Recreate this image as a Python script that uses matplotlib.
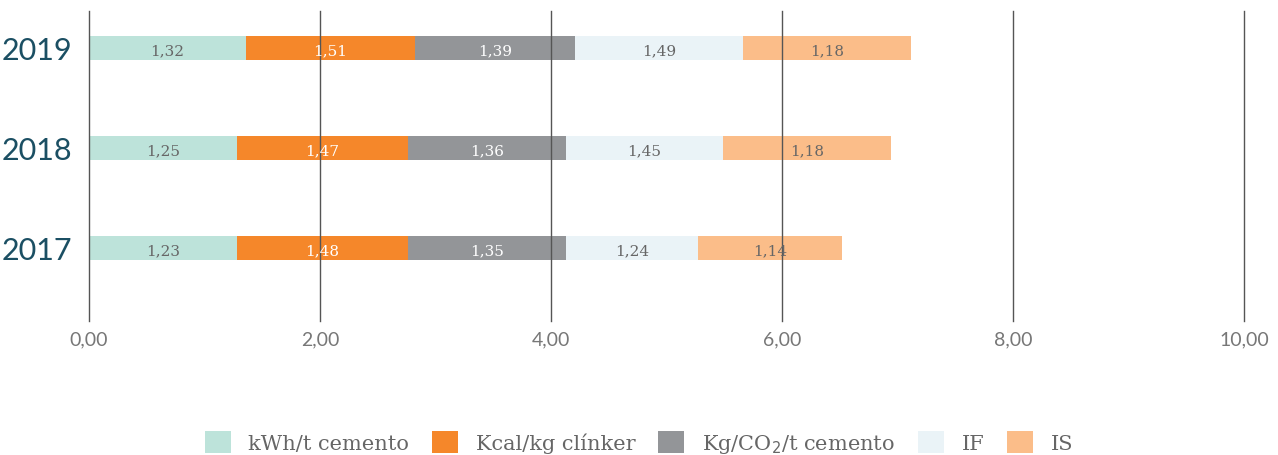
import matplotlib.pyplot as plt
from matplotlib.patches import Patch

# data
years = ["2019", "2018", "2017"]
series = ["kWh/t cemento", "Kcal/kg clínker", "Kg/CO$_2$/t cemento", "IF", "IS"]
colors = ["#bde3da", "#f5872a", "#939598", "#eaf3f7", "#fbbd89"]
text_colors = ["#666666", "#ffffff", "#ffffff", "#666666", "#666666"]

# labels printed on each segment
labels = [
    ["1,32", "1,51", "1,39", "1,49", "1,18"],
    ["1,25", "1,47", "1,36", "1,45", "1,18"],
    ["1,23", "1,48", "1,35", "1,24", "1,14"],
]
# drawn segment lengths (as measured on the axis)
lengths = [
    [1.36, 1.46, 1.39, 1.45, 1.46],
    [1.28, 1.48, 1.37, 1.36, 1.45],
    [1.28, 1.48, 1.37, 1.14, 1.25],
]
xticks = [0, 2, 4, 6, 8, 10]

fig = plt.figure(figsize=(12.78, 4.56), dpi=100)
ax = fig.add_axes([89 / 1278, 1 - 322 / 456, (1244 - 89) / 1278, 310 / 456])

for i, yr in enumerate(years):
    left = 0
    for j in range(len(series)):
        w = lengths[i][j]
        ax.barh(i, w, left=left, height=0.24, color=colors[j], zorder=1)
        ax.text(left + w / 2, i + 0.02, labels[i][j], ha="center", va="center",
                fontsize=11, color=text_colors[j], family="DejaVu Serif", zorder=3)
        left += w

for x in xticks:
    ax.axvline(x, color="#555555", lw=1, zorder=2, clip_on=False)

ax.set_xlim(0, 10)
ax.set_ylim(2.73, -0.37)
ax.set_xticks(xticks)
ax.set_xticklabels(["%d,00" % x for x in xticks], color="#777777", fontsize=14,
                   family="Lato")
ax.tick_params(axis="x", length=0, pad=7)
ax.set_yticks(range(len(years)))
ax.set_yticklabels(years, fontsize=22, color="#1b4f63", family="Lato")
ax.tick_params(axis="y", length=0, pad=12)
for s in ax.spines.values():
    s.set_visible(False)

handles = [Patch(facecolor=c, edgecolor="none") for c in colors]
fig.legend(handles, series, loc="center", bbox_to_anchor=(0.5, 1 - 444 / 456),
           ncol=5, frameon=False, handlelength=1.25, handleheight=1.25,
           handletextpad=0.85, columnspacing=1.1,
           prop={"family": "DejaVu Serif", "size": 15}, labelcolor="#666666")

plt.savefig("out.png", dpi=100)
